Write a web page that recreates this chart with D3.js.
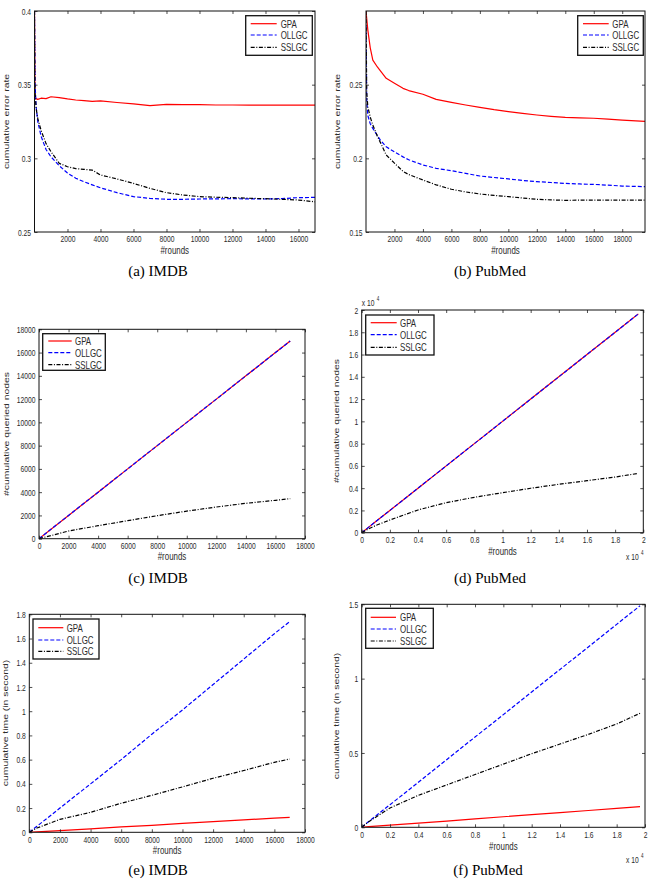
<!DOCTYPE html>
<html><head><meta charset="utf-8">
<script src="https://cdn.jsdelivr.net/npm/d3@7"></script>
<style>html,body{margin:0;padding:0;background:#fff;} svg{display:block;}</style>
</head><body><svg id="chart" width="651" height="886"></svg>
<script>
// ---------------- DATA ----------------
const seriesNames = ["GPA", "OLLGC", "SSLGC"];

// (a) IMDB cumulative error rate
const imdbErrRounds = [1, 30, 100, 200, 400, 700, 1000, 1500, 2000, 2500, 3000, 3500, 4000, 5000, 6000, 7000, 8000, 9000, 10000, 11000, 12000, 13000, 14000, 15000, 16000, 17000];
const imdbErrGPA    = [0.40, 0.342, 0.3405, 0.340, 0.3408, 0.3405, 0.3418, 0.3412, 0.3403, 0.3396, 0.3392, 0.3386, 0.3390, 0.3379, 0.3370, 0.3358, 0.3366, 0.3365, 0.3364, 0.3362, 0.3362, 0.3361, 0.3361, 0.3361, 0.3361, 0.3361];
const imdbErrOLLGC  = [0.40, 0.352, 0.335, 0.325, 0.315, 0.306, 0.301, 0.295, 0.290, 0.2865, 0.2841, 0.282, 0.280, 0.2767, 0.274, 0.2728, 0.2722, 0.2722, 0.2724, 0.2725, 0.2726, 0.2725, 0.2724, 0.2727, 0.2733, 0.2735];
const imdbErrSSLGC  = [0.40, 0.345, 0.334, 0.327, 0.319, 0.310, 0.3045, 0.2966, 0.2943, 0.293, 0.2925, 0.292, 0.2887, 0.286, 0.283, 0.2796, 0.2767, 0.2751, 0.274, 0.2736, 0.2733, 0.2729, 0.2726, 0.2722, 0.2717, 0.2705];
const imdbErrXTicks = [2000, 4000, 6000, 8000, 10000, 12000, 14000, 16000];
const imdbErrXLabels = ["2000", "4000", "6000", "8000", "10000", "12000", "14000", "16000"];
const imdbErrYTicks = [0.25, 0.3, 0.35, 0.4];
const imdbErrYLabels = ["0.25", "0.3", "0.35", "0.4"];

// (b) PubMed cumulative error rate
const pubErrRounds = [1, 50, 130, 300, 480, 800, 1000, 1420, 2000, 2600, 3000, 4000, 4930, 6000, 7000, 8000, 9000, 10000, 11000, 12000, 13000, 14000, 15000, 16000, 17000, 18000, 19600];
const pubErrGPA    = [0.30, 0.295, 0.287, 0.275, 0.2667, 0.262, 0.2595, 0.2543, 0.251, 0.2475, 0.246, 0.2435, 0.240, 0.238, 0.2362, 0.2346, 0.233, 0.2317, 0.2305, 0.2294, 0.2285, 0.2278, 0.2275, 0.2272, 0.2266, 0.226, 0.2251];
const pubErrOLLGC  = [0.29, 0.240, 0.229, 0.2235, 0.2203, 0.2155, 0.2125, 0.2078, 0.2044, 0.201, 0.199, 0.1955, 0.1932, 0.1916, 0.1898, 0.188, 0.187, 0.186, 0.185, 0.1842, 0.1836, 0.183, 0.1826, 0.1823, 0.1818, 0.1812, 0.1808];
const pubErrSSLGC  = [0.30, 0.245, 0.235, 0.228, 0.2226, 0.215, 0.211, 0.2023, 0.1967, 0.1912, 0.189, 0.1853, 0.182, 0.179, 0.1772, 0.1758, 0.1748, 0.174, 0.1731, 0.1722, 0.1718, 0.1715, 0.1716, 0.1717, 0.1717, 0.1717, 0.1717];
const pubErrXTicks = [2000, 4000, 6000, 8000, 10000, 12000, 14000, 16000, 18000];
const pubErrXLabels = ["2000", "4000", "6000", "8000", "10000", "12000", "14000", "16000", "18000"];
const pubErrYTicks = [0.15, 0.2, 0.25];
const pubErrYLabels = ["0.15", "0.2", "0.25"];

// (c) IMDB cumulative queried nodes
const imdbQRounds = [0, 2000, 4000, 6000, 8000, 10000, 12000, 14000, 16000, 17000];
const imdbQGPA    = [0, 2000, 4000, 6000, 8000, 10000, 12000, 14000, 16000, 17000];
const imdbQOLLGC  = [0, 2000, 4000, 6000, 8000, 10000, 12000, 14000, 16000, 17000];
const imdbQSSLGC  = [0, 660, 1117, 1550, 1977, 2370, 2725, 3040, 3300, 3440];
const imdbQXTicks = [0, 2000, 4000, 6000, 8000, 10000, 12000, 14000, 16000, 18000];
const imdbQXLabels = ["0", "2000", "4000", "6000", "8000", "10000", "12000", "14000", "16000", "18000"];
const imdbQYTicks = [0, 2000, 4000, 6000, 8000, 10000, 12000, 14000, 16000, 18000];
const imdbQYLabels = ["0", "2000", "4000", "6000", "8000", "10000", "12000", "14000", "16000", "18000"];

// (d) PubMed cumulative queried nodes (x 10^4)
const pubQRounds = [0, 0.05, 0.1, 0.2, 0.4, 0.6, 0.8, 1.0, 1.2, 1.4, 1.6, 1.8, 1.965];
const pubQGPA    = [0, 0.05, 0.1, 0.2, 0.4, 0.6, 0.8, 1.0, 1.2, 1.4, 1.6, 1.8, 1.965];
const pubQOLLGC  = [0, 0.05, 0.1, 0.2, 0.4, 0.6, 0.8, 1.0, 1.2, 1.4, 1.6, 1.8, 1.965];
const pubQSSLGC  = [0, 0.035, 0.065, 0.114, 0.204, 0.27, 0.318, 0.359, 0.399, 0.435, 0.467, 0.5, 0.533];
const pubQXTicks = [0, 0.2, 0.4, 0.6, 0.8, 1, 1.2, 1.4, 1.6, 1.8, 2];
const pubQXLabels = ["0", "0.2", "0.4", "0.6", "0.8", "1", "1.2", "1.4", "1.6", "1.8", "2"];
const pubQYTicks = [0, 0.2, 0.4, 0.6, 0.8, 1, 1.2, 1.4, 1.6, 1.8, 2];
const pubQYLabels = ["0", "0.2", "0.4", "0.6", "0.8", "1", "1.2", "1.4", "1.6", "1.8", "2"];

// (e) IMDB cumulative time
const imdbTRounds = [0, 500, 2000, 4000, 6000, 8000, 10000, 12000, 14000, 16000, 17000];
const imdbTGPA    = [0, 0.004, 0.014, 0.029, 0.044, 0.058, 0.073, 0.088, 0.102, 0.117, 0.124];
const imdbTOLLGC  = [0, 0.05, 0.2, 0.4, 0.6, 0.81, 1.01, 1.22, 1.43, 1.64, 1.74];
const imdbTSSLGC  = [0, 0.035, 0.107, 0.165, 0.24, 0.305, 0.375, 0.446, 0.51, 0.578, 0.605];
const imdbTXTicks = [0, 2000, 4000, 6000, 8000, 10000, 12000, 14000, 16000, 18000];
const imdbTXLabels = ["0", "2000", "4000", "6000", "8000", "10000", "12000", "14000", "16000", "18000"];
const imdbTYTicks = [0, 0.2, 0.4, 0.6, 0.8, 1, 1.2, 1.4, 1.6, 1.8];
const imdbTYLabels = ["0", "0.2", "0.4", "0.6", "0.8", "1", "1.2", "1.4", "1.6", "1.8"];

// (f) PubMed cumulative time (x 10^4 rounds)
const pubTRounds = [0, 0.05, 0.2, 0.4, 0.6, 0.8, 1.0, 1.2, 1.4, 1.6, 1.8, 1.965];
const pubTGPA    = [0, 0.004, 0.014, 0.028, 0.042, 0.057, 0.071, 0.085, 0.099, 0.113, 0.127, 0.139];
const pubTOLLGC  = [0, 0.04, 0.152, 0.303, 0.455, 0.607, 0.758, 0.91, 1.062, 1.213, 1.365, 1.49];
const pubTSSLGC  = [0, 0.038, 0.13, 0.215, 0.285, 0.355, 0.425, 0.495, 0.56, 0.625, 0.695, 0.767];
const pubTXTicks = [0, 0.2, 0.4, 0.6, 0.8, 1, 1.2, 1.4, 1.6, 1.8, 2];
const pubTXLabels = ["0", "0.2", "0.4", "0.6", "0.8", "1", "1.2", "1.4", "1.6", "1.8", "2"];
const pubTYTicks = [0, 0.5, 1, 1.5];
const pubTYLabels = ["0", "0.5", "1", "1.5"];

// ---------------- STYLE / LAYOUT ----------------
const SANS = "'Liberation Sans', Arial, Helvetica, sans-serif";
const SERIF = "'Liberation Serif', 'Times New Roman', serif";
const SX_TICK = 0.7;      // horizontal squash of the original figure text
const SX_LAB = 0.72;
const TICK_FS = 9.6;
const LAB_FS = 11;
const VLAB_FS = 10.4;
const TXT = "#2a2a2a";
const styles = [
  {color: "#ff0000", dash: null},
  {color: "#0000ff", dash: "4,2"},
  {color: "#000000", dash: "4,1.6,1,1.6"}
];

const panels = [
  {id: "a", rect: [34.5, 11, 315, 232], xDomain: [1, 17000], yDomain: [0.25, 0.4],
   x: imdbErrRounds, ys: [imdbErrGPA, imdbErrOLLGC, imdbErrSSLGC],
   xTicks: imdbErrXTicks, xLabels: imdbErrXLabels, yTicks: imdbErrYTicks, yLabels: imdbErrYLabels,
   yLabel: "cumulative error rate", yLabelPos: [6.5, 121.5], xLabelY: 254.2,
   caption: "(a)  IMDB", capPos: [158, 275.5],
   legend: {box: [245.7, 15.7, 312.3, 55.3], rows: [23.7, 35, 47.3], line: [250.7, 276.7], textX: 280.7}},
  {id: "b", rect: [366, 11, 645, 232], xDomain: [1, 19600], yDomain: [0.15, 0.3],
   x: pubErrRounds, ys: [pubErrGPA, pubErrOLLGC, pubErrSSLGC],
   xTicks: pubErrXTicks, xLabels: pubErrXLabels, yTicks: pubErrYTicks, yLabels: pubErrYLabels,
   yLabel: "cumulative error rate", yLabelPos: [337.3, 121.5], xLabelY: 254.2,
   caption: "(b)  PubMed", capPos: [490, 275.5],
   legend: {box: [577.7, 15.7, 643.3, 55.3], rows: [23.7, 35, 47.3], line: [583, 608.7], textX: 612.3}},
  {id: "c", rect: [39, 329.3, 305, 538.7], xDomain: [0, 18000], yDomain: [0, 18000],
   x: imdbQRounds, ys: [imdbQGPA, imdbQOLLGC, imdbQSSLGC],
   xTicks: imdbQXTicks, xLabels: imdbQXLabels, yTicks: imdbQYTicks, yLabels: imdbQYLabels,
   yLabel: "#cumulative queried nodes", yLabelPos: [7, 434], xLabelY: 560,
   caption: "(c)  IMDB", capPos: [158, 582.5],
   legend: {box: [42.7, 333.7, 105.3, 370.3], rows: [341, 352.7, 364.7], line: [48.3, 71.7], textX: 75}},
  {id: "d", rect: [361.7, 310, 643.3, 532.7], xDomain: [0, 2], yDomain: [0, 2],
   x: pubQRounds, ys: [pubQGPA, pubQOLLGC, pubQSSLGC],
   xTicks: pubQXTicks, xLabels: pubQXLabels, yTicks: pubQYTicks, yLabels: pubQYLabels,
   yLabel: "#cumulative queried nodes", yLabelPos: [337, 421], xLabelY: 554.5,
   caption: "(d)  PubMed", capPos: [490, 582.5],
   exps: [[361.7, 306], [626, 559.5]],
   legend: {box: [365.7, 315, 434, 355], rows: [322.7, 334.7, 347.3], line: [370.7, 396.7], textX: 400}},
  {id: "e", rect: [29.3, 614.3, 305, 832.3], xDomain: [0, 18000], yDomain: [0, 1.8],
   x: imdbTRounds, ys: [imdbTGPA, imdbTOLLGC, imdbTSSLGC],
   xTicks: imdbTXTicks, xLabels: imdbTXLabels, yTicks: imdbTYTicks, yLabels: imdbTYLabels,
   yLabel: "cumulative time (in second)", yLabelPos: [6, 723], xLabelY: 854,
   caption: "(e)  IMDB", capPos: [158, 874.5],
   legend: {box: [33, 619, 99, 659], rows: [627.7, 640, 651.3], line: [38.3, 63.3], textX: 66.7}},
  {id: "f", rect: [361.7, 604.3, 645, 827.3], xDomain: [0, 2], yDomain: [0, 1.5],
   x: pubTRounds, ys: [pubTGPA, pubTOLLGC, pubTSSLGC],
   xTicks: pubTXTicks, xLabels: pubTXLabels, yTicks: pubTYTicks, yLabels: pubTYLabels,
   yLabel: "cumulative time (in second)", yLabelPos: [337, 716], xLabelY: 849.5,
   caption: "(f)  PubMed", capPos: [488, 874.5],
   exps: [[626, 862.5]],
   legend: {box: [365.7, 608.3, 433.3, 648.3], rows: [617.3, 629, 641], line: [370.7, 396], textX: 400}}
];

// ---------------- DRAW ----------------
const svg = d3.select("#chart");
svg.append("rect").attr("width", 651).attr("height", 886).attr("fill", "#fff");

function hText(g, x, y, str, fs, anchor, opts = {}) {
  return g.append("text")
    .attr("transform", `translate(${x},${y}) scale(${opts.sx ?? SX_LAB},1)`)
    .attr("text-anchor", anchor)
    .attr("font-family", opts.family || SANS)
    .attr("font-size", fs)
    .attr("fill", opts.fill || TXT)
    .text(str);
}

panels.forEach(p => {
  const [L, T, R, B] = p.rect;
  const xs = d3.scaleLinear().domain(p.xDomain).range([L, R]);
  const ys = d3.scaleLinear().domain(p.yDomain).range([B, T]);
  const g = svg.append("g").attr("class", "panel-" + p.id);

  g.append("rect").attr("x", L).attr("y", T).attr("width", R - L).attr("height", B - T).attr("fill", "#fff");

  const cid = "clip-" + p.id;
  g.append("clipPath").attr("id", cid).append("rect")
    .attr("x", L).attr("y", T).attr("width", R - L).attr("height", B - T);

  const lg = g.append("g").attr("clip-path", `url(#${cid})`);
  p.ys.forEach((vals, si) => {
    const pts = p.x.map((xv, i) => [xv, vals[i]]);
    const line = d3.line().x(d => xs(d[0])).y(d => ys(d[1]));
    lg.append("path").datum(pts)
      .attr("d", line)
      .attr("fill", "none")
      .attr("stroke", styles[si].color)
      .attr("stroke-width", 1.2)
      .attr("stroke-dasharray", styles[si].dash)
      .attr("stroke-linejoin", "round");
  });

  const fmtX = (d, i) => p.xLabels[i];
  const fmtY = (d, i) => p.yLabels[i];
  const axB = g.append("g").attr("transform", `translate(0,${B})`)
    .call(d3.axisBottom(xs).tickValues(p.xTicks).tickFormat(fmtX).tickSizeInner(-3).tickSizeOuter(0).tickPadding(3.5));
  const axT = g.append("g").attr("transform", `translate(0,${T})`)
    .call(d3.axisTop(xs).tickValues(p.xTicks).tickFormat("").tickSizeInner(-3).tickSizeOuter(0));
  const axL = g.append("g").attr("transform", `translate(${L},0)`)
    .call(d3.axisLeft(ys).tickValues(p.yTicks).tickFormat(fmtY).tickSizeInner(-3).tickSizeOuter(0).tickPadding(4));
  const axR = g.append("g").attr("transform", `translate(${R},0)`)
    .call(d3.axisRight(ys).tickValues(p.yTicks).tickFormat("").tickSizeInner(-3).tickSizeOuter(0));
  [axB, axT, axL, axR].forEach(a => {
    a.select(".domain").remove();
    a.selectAll(".tick line").attr("stroke", "#222").attr("stroke-width", 0.8);
    a.selectAll("text").attr("font-family", SANS).attr("font-size", TICK_FS).attr("fill", TXT);
  });
  axB.selectAll(".tick text").attr("transform", `scale(${SX_TICK},1)`);
  axL.selectAll(".tick text").attr("transform", `scale(${SX_TICK},1)`).attr("x", -3.5 / SX_TICK);

  g.append("rect").attr("x", L).attr("y", T).attr("width", R - L).attr("height", B - T)
    .attr("fill", "none").attr("stroke", "#111").attr("stroke-width", 1);

  hText(g, (L + R) / 2, p.xLabelY, "#rounds", LAB_FS, "middle");
  g.append("text")
    .attr("transform", `translate(${p.yLabelPos[0]},${p.yLabelPos[1]}) scale(${SX_LAB},1) rotate(-90)`)
    .attr("text-anchor", "middle").attr("dominant-baseline", "central")
    .attr("font-family", SANS).attr("font-size", VLAB_FS).attr("fill", TXT)
    .text(p.yLabel);

  (p.exps || []).forEach(([ex, ey]) => {
    hText(g, ex, ey, "x 10", TICK_FS, "start", {sx: SX_TICK});
    hText(g, ex + 15, ey - 5, "4", 6.5, "start", {sx: SX_TICK});
  });

  const lgd = p.legend;
  const leg = g.append("g").attr("class", "legend");
  leg.append("rect").attr("x", lgd.box[0]).attr("y", lgd.box[1])
    .attr("width", lgd.box[2] - lgd.box[0]).attr("height", lgd.box[3] - lgd.box[1])
    .attr("fill", "#fff").attr("stroke", "#111").attr("stroke-width", 1.3);
  seriesNames.forEach((name, si) => {
    const yy = lgd.rows[si];
    leg.append("line").attr("x1", lgd.line[0]).attr("x2", lgd.line[1]).attr("y1", yy).attr("y2", yy)
      .attr("stroke", styles[si].color).attr("stroke-width", 1.2)
      .attr("stroke-dasharray", styles[si].dash);
    hText(leg, lgd.textX, yy + 3.8, name, LAB_FS, "start");
  });

  hText(svg, p.capPos[0], p.capPos[1], p.caption, 15, "middle", {sx: 1, family: SERIF, fill: "#000"});
});
</script>
</body></html>
